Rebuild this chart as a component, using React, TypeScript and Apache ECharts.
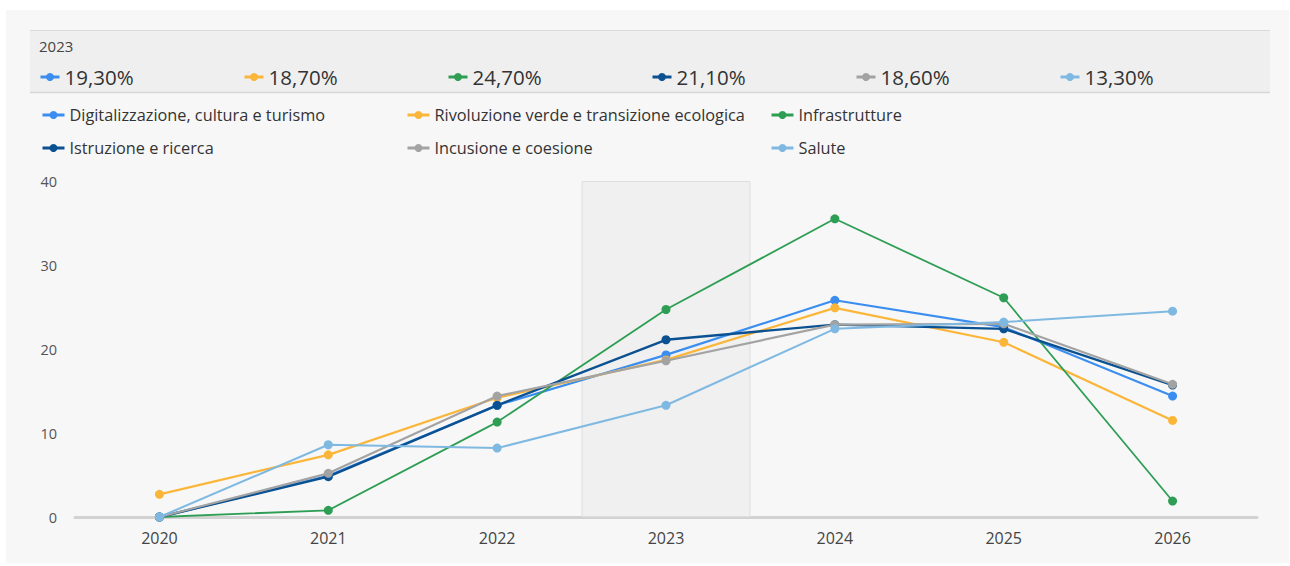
import React, { useEffect, useRef } from "react";
import * as echarts from "echarts";

const years = ["2020", "2021", "2022", "2023", "2024", "2025", "2026"];
const highlightYear = "2023";

const seriesNames = [
  "Digitalizzazione, cultura e turismo",
  "Rivoluzione verde e transizione ecologica",
  "Infrastrutture",
  "Istruzione e ricerca",
  "Incusione e coesione",
  "Salute",
];

const digitalizzazione = [0, 4.9, 13.3, 19.3, 25.8, 22.6, 14.4];
const rivoluzioneVerde = [2.7, 7.4, 14.2, 18.7, 24.9, 20.8, 11.5];
const infrastrutture = [0, 0.8, 11.3, 24.7, 35.5, 26.1, 1.9];
const istruzione = [0, 4.8, 13.3, 21.1, 22.9, 22.4, 15.7];
const inclusione = [0, 5.2, 14.4, 18.6, 22.9, 23.0, 15.8];
const salute = [0, 8.6, 8.2, 13.3, 22.4, 23.2, 24.5];

const yMin = 0;
const yMax = 40;
const yInterval = 10;

const seriesValues = [digitalizzazione, rivoluzioneVerde, infrastrutture, istruzione, inclusione, salute];
const colors = ["#3b8eef", "#fbb63a", "#2f9e55", "#0b5192", "#a3a3a3", "#7fb9e1"];
const lineWidths = [2.2, 2.2, 1.8, 2.4, 2.2, 2];

const FONT = "'Segoe UI', 'Open Sans', 'Noto Sans', sans-serif";

export default function App() {
  const ref = useRef<HTMLDivElement>(null);

  useEffect(() => {
    document.body.style.margin = "0";
    const chart = echarts.init(ref.current!, null, { renderer: "svg" });
    const hiIdx = years.indexOf(highlightYear);
    const fmt = (v: number) => v.toFixed(2).replace(".", ",") + "%";

    const headerLegends = seriesNames.map((name, i) => ({
      data: [name],
      left: 39 + i * 204,
      top: 64,
      padding: 0,
      itemWidth: 19,
      itemHeight: 10,
      itemGap: 0,
      selectedMode: false,
      lineStyle: { width: 3 },
      formatter: () => fmt(seriesValues[i][hiIdx]),
      textStyle: { fontSize: 20.5, color: "#333", fontFamily: FONT, lineHeight: 26 },
    }));

    const bodyLeft = [41, 406, 770];
    const bodyLegends = seriesNames.map((name, i) => ({
      data: [name],
      left: bodyLeft[i % 3],
      top: i < 3 ? 104 : 137,
      padding: 0,
      itemWidth: 22,
      itemHeight: 10,
      itemGap: 0,
      selectedMode: false,
      lineStyle: { width: 3 },
      textStyle: { fontSize: 16.3, color: "#333", fontFamily: FONT, lineHeight: 22 },
    }));

    const option: any = {
      animation: false,
      backgroundColor: "#ffffff",
      textStyle: { fontFamily: FONT },
      graphic: [
        {
          type: "rect",
          z: -10,
          shape: { x: 6, y: 10, width: 1283, height: 553 },
          style: { fill: "#f7f7f7" },
          silent: true,
        },
        {
          type: "rect",
          z: -9,
          shape: { x: 30, y: 30, width: 1240, height: 63 },
          style: { fill: "#efefef" },
          silent: true,
        },
        {
          type: "line",
          z: -8,
          shape: { x1: 30, y1: 30.5, x2: 1270, y2: 30.5 },
          style: { stroke: "#dadada", lineWidth: 1 },
          silent: true,
        },
        {
          type: "line",
          z: -8,
          shape: { x1: 30, y1: 92.5, x2: 1270, y2: 92.5 },
          style: { stroke: "#d6d6d6", lineWidth: 1.5 },
          silent: true,
        },
        {
          type: "text",
          x: 39,
          y: 46,
          style: {
            text: highlightYear,
            fontSize: 15,
            fill: "#444",
            fontFamily: FONT,
            verticalAlign: "middle",
          },
        },
      ],
      legend: [...headerLegends, ...bodyLegends],
      grid: { left: 75, right: 33, top: 181, bottom: 49, containLabel: false },
      xAxis: {
        type: "category",
        data: years,
        boundaryGap: true,
        axisLine: { show: true, lineStyle: { color: "#d2d2d2", width: 3 } },
        axisTick: { show: false },
        axisLabel: { fontSize: 16, color: "#444", margin: 13, fontFamily: FONT },
        splitLine: { show: false },
      },
      yAxis: {
        type: "value",
        min: yMin,
        max: yMax,
        interval: yInterval,
        axisLine: { show: false },
        axisTick: { show: false },
        splitLine: { show: false },
        axisLabel: { fontSize: 14.5, color: "#555", margin: 18, fontFamily: FONT },
      },
      series: [
        {
          type: "bar",
          name: "highlight",
          data: years.map((y) => (y === highlightYear ? yMax : null)),
          barWidth: "100%",
          z: 1,
          silent: true,
          itemStyle: { color: "#f0f0f0", borderColor: "#dedede", borderWidth: 1 },
        },
        ...seriesNames.map((name, i) => ({
          type: "line",
          name,
          data: seriesValues[i],
          color: colors[i],
          symbol: "circle",
          symbolSize: 9,
          showSymbol: true,
          z: 3 + i,
          lineStyle: { width: lineWidths[i], color: colors[i] },
          itemStyle: { color: colors[i] },
        })),
      ],
    };

    chart.setOption(option);
    return () => chart.dispose();
  }, []);

  return <div ref={ref} style={{ width: 1290, height: 566 }} />;
}
